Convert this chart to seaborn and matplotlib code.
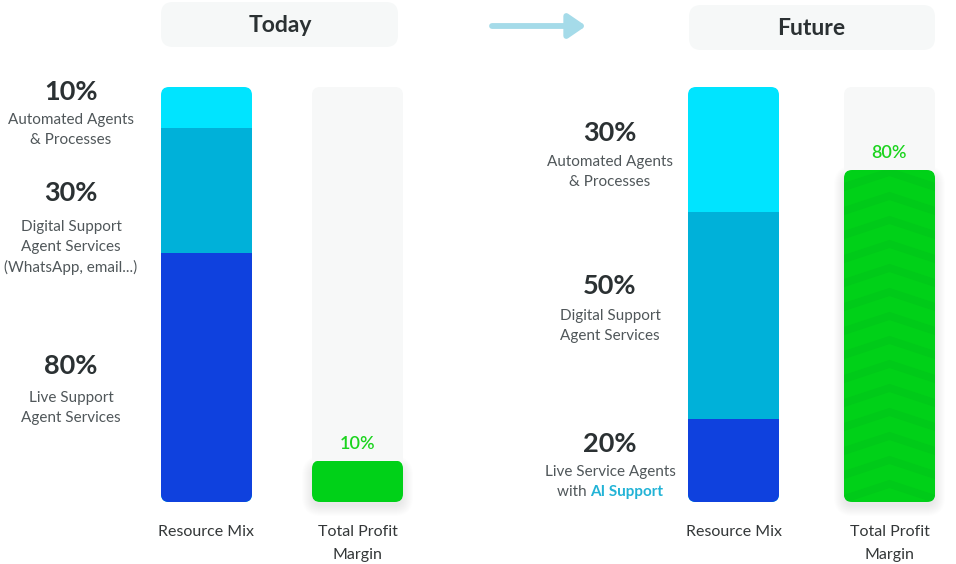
import numpy as np
import pandas as pd
import matplotlib
matplotlib.use("Agg")
import matplotlib.pyplot as plt
import seaborn as sns
from matplotlib.patches import FancyBboxPatch, FancyArrowPatch
from matplotlib.transforms import IdentityTransform
from matplotlib.lines import Line2D

# ---------------- data ----------------
panel_titles = ["Today", "Future"]
bar_categories = ["Resource Mix", "Total Profit\nMargin"]
today_mix_values = [10, 30, 60]          # top -> bottom, bar heights
future_mix_values = [30, 50, 20]
today_mix_labels = ["10%", "30%", "80%"]
future_mix_labels = ["30%", "50%", "20%"]
today_mix_desc = ["Automated Agents\n& Processes",
                  "Digital Support\nAgent Services\n(WhatsApp, email...)",
                  "Live Support\nAgent Services"]
future_mix_desc = ["Automated Agents\n& Processes",
                   "Digital Support\nAgent Services",
                   "Live Service Agents\nwith AI Support"]
highlight_phrase = "AI Support"
today_profit = 10
future_profit = 80
profit_track_max = 100

# ---------------- style ----------------
SEG_COLORS = ["#00e4ff", "#00b1d9", "#0f41de"]
GREEN = "#00d118"
CHEVRON = "#00ca19"
TRACK = "#f7f8f8"
HEADER_BG = "#f6f8f8"
TEXT_DARK = "#2b3133"
TEXT_GREY = "#50575a"
GREEN_TEXT = "#1bd41e"
HILITE = "#22b3d6"
ARROW = "#a5dbe9"

W, H = 956, 564
sns.set_style("white")
plt.rcParams['font.family'] = ['Lato', 'DejaVu Sans']

fig = plt.figure(figsize=(W / 100, H / 100), dpi=100)
fig.patch.set_facecolor("white")

KEEP = []  # keep clip paths alive


def fx(x):
    return x / W


def fy(y):
    return 1 - y / H


BAR_TOP_PX, BAR_BOT_PX = 87, 502
axh = (BAR_BOT_PX - BAR_TOP_PX) / H
ax1 = fig.add_axes([131 / W, (H - BAR_BOT_PX) / H, 302 / W, axh])
ax2 = fig.add_axes([655.5 / W, (H - BAR_BOT_PX) / H, 296.4 / W, axh])


def rounded_clip(ax, x0, x1, y0, y1, r=8):
    px0, py0 = ax.transData.transform((x0, y0))
    px1, py1 = ax.transData.transform((x1, y1))
    p = FancyBboxPatch((px0, py0), px1 - px0, py1 - py0,
                       boxstyle=f"round,pad=0,rounding_size={r}")
    path = p.get_path()
    KEEP.append(path)
    return path


def apply_clip(artist, path):
    artist.set_clip_path(path, IdentityTransform())


def layer(ax, cat, val, color, width):
    n0 = len(ax.patches)
    sns.barplot(x=[cat], y=[val], order=bar_categories, color=color,
                width=width, saturation=1, errorbar=None, ax=ax, zorder=2,
                linewidth=0, edgecolor="none")
    return [p for p in ax.patches[n0:] if np.isfinite(p.get_height()) and p.get_height() > 0]


def draw_panel(ax, mix_values, profit_value, width, xlim, chevrons):
    track = layer(ax, bar_categories[1], profit_track_max, TRACK, width)
    cum = np.cumsum(mix_values[::-1])[::-1]
    mix_patches = []
    for v, c in zip(cum, SEG_COLORS):
        mix_patches += layer(ax, bar_categories[0], v, c, width)
    green = layer(ax, bar_categories[1], profit_value, GREEN, width)

    ax.set_xlim(*xlim)
    ax.set_ylim(0, 100)
    ax.set_xlabel("")
    ax.set_ylabel("")
    ax.set_yticks([])
    for s in ax.spines.values():
        s.set_visible(False)
    ax.set_facecolor("none")
    ax.set_xticks([0, 1])
    ax.set_xticklabels(bar_categories, fontsize=11.5, color="#333738")
    for t in ax.get_xticklabels():
        t.set_linespacing(1.8)
    ax.tick_params(axis="x", length=0, pad=16.5)

    p = mix_patches[0]
    clip = rounded_clip(ax, p.get_x(), p.get_x() + p.get_width(), 0, cum[0])
    for mp in mix_patches:
        apply_clip(mp, clip)
    t = track[0]
    apply_clip(t, rounded_clip(ax, t.get_x(), t.get_x() + t.get_width(), 0, t.get_height()))

    g = green[0]
    gx0, gx1 = g.get_x(), g.get_x() + g.get_width()
    clip_g = rounded_clip(ax, gx0, gx1, 0, g.get_height())
    apply_clip(g, clip_g)
    px0, py0 = ax.transData.transform((gx0, 0))
    px1, py1 = ax.transData.transform((gx1, g.get_height()))
    for k in range(1, 12):
        sh = FancyBboxPatch((px0 - k + 1, py0 - k - 3), px1 - px0 + 2 * k - 2, py1 - py0 + 2 * k - 4,
                            boxstyle=f"round,pad=0,rounding_size={8 + k}",
                            transform=IdentityTransform(), facecolor="#000000",
                            edgecolor="none", alpha=0.006, zorder=1.9, clip_on=False)
        ax.add_patch(sh)
    g.set_zorder(2.2)
    if chevrons:
        xc = (px0 + px1) / 2
        ya = py1 - 2
        while ya > py0 - 30:
            ln = Line2D([px0 - 4, xc, px1 + 4], [ya - 16.3, ya, ya - 16.3],
                        transform=IdentityTransform(), color=CHEVRON, lw=5.6,
                        solid_joinstyle="miter", solid_capstyle="butt", zorder=2.3)
            apply_clip(ln, clip_g)
            ax.add_line(ln)
            ya -= 24
    ax.annotate(f"{profit_value}%", (1, profit_value), xytext=(0, 12),
                textcoords="offset points", ha="center", va="center",
                fontsize=13, fontweight="semibold", color=GREEN_TEXT,
                annotation_clip=False, zorder=5)


draw_panel(ax1, today_mix_values, today_profit, 91 / 151, (-0.5, 1.5), False)
draw_panel(ax2, future_mix_values, future_profit, 91 / 156, (-0.5, 1.4), True)

# ---------------- headers ----------------
for (x0, y0, x1, y1), title, (tx, ty) in [((161, 2, 398, 47), panel_titles[0], (280, 26)),
                                          ((689, 5, 935, 50), panel_titles[1], (811, 28.5))]:
    hb = FancyBboxPatch((x0, H - y1), x1 - x0, y1 - y0,
                        boxstyle="round,pad=0,rounding_size=12",
                        transform=IdentityTransform(), facecolor=HEADER_BG,
                        edgecolor="none", zorder=0)
    fig.add_artist(hb)
    fig.text(fx(tx), fy(ty), title, ha="center", va="center", fontsize=16.5,
             fontweight="bold", color=TEXT_DARK)

arrow = FancyArrowPatch(posA=(492, H - 26), posB=(586, H - 26),
                        arrowstyle="-|>,head_length=1.05,head_width=0.72",
                        mutation_scale=10, transform=IdentityTransform(),
                        color=ARROW, lw=4.2, capstyle="round", joinstyle="round",
                        shrinkA=0, shrinkB=0)
fig.add_artist(arrow)

# ---------------- side labels ----------------
renderer = fig.canvas.get_renderer()


def side_label(xc, y_pct, y_desc, pct, desc):
    fig.text(fx(xc), fy(y_pct), pct, ha="center", va="center", fontsize=19.5,
             fontweight="bold", color=TEXT_DARK)
    for i, line in enumerate(desc.split("\n")):
        y = y_desc + 20 * i
        if highlight_phrase in line:
            pre = line.replace(highlight_phrase, "")
            t1 = fig.text(0, 0, pre, fontsize=11, color=TEXT_GREY)
            t2 = fig.text(0, 0, highlight_phrase, fontsize=11, color=HILITE, fontweight="bold")
            w1 = t1.get_window_extent(renderer).width
            w2 = t2.get_window_extent(renderer).width
            left = xc - (w1 + w2) / 2
            t1.set_position((fx(left), fy(y)))
            t1.set_va("center")
            t2.set_position((fx(left + w1), fy(y)))
            t2.set_va("center")
        else:
            fig.text(fx(xc), fy(y), line, ha="center", va="center", fontsize=11,
                     color=TEXT_GREY)


for pct, desc, yp, yd in zip(today_mix_labels, today_mix_desc, [92, 193, 366], [120, 227, 398]):
    side_label(71, yp, yd, pct, desc)
for pct, desc, yp, yd in zip(future_mix_labels, future_mix_desc, [133, 286, 444], [162, 316, 472]):
    side_label(610, yp, yd, pct, desc)

fig.savefig("out.png", dpi=100, facecolor="white")
